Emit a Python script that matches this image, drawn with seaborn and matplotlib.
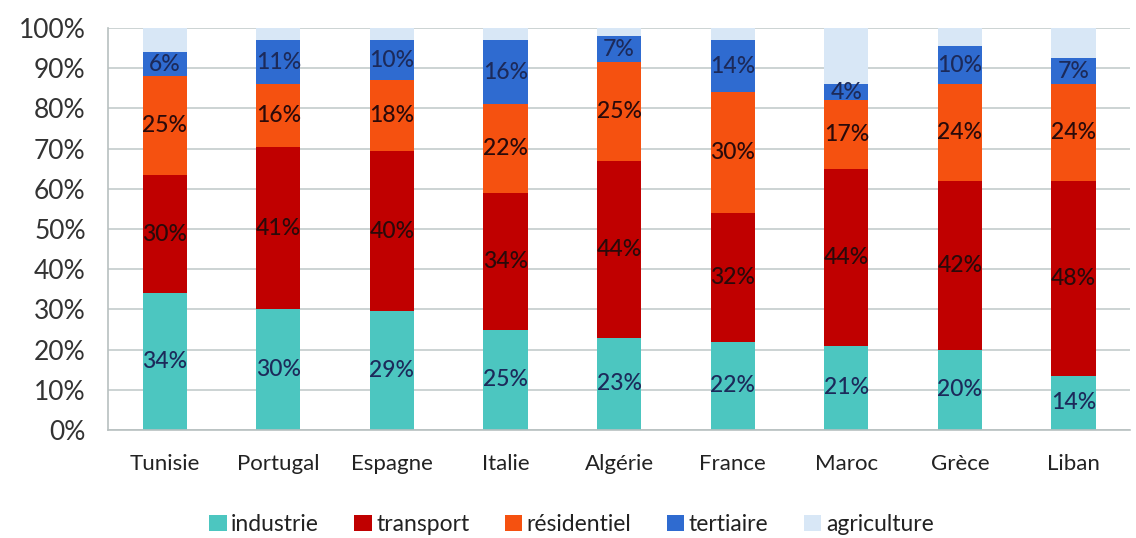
import numpy as np
import pandas as pd
import matplotlib
matplotlib.use("Agg")
import matplotlib.pyplot as plt
import seaborn as sns
from matplotlib.patches import Patch
from matplotlib.ticker import FixedLocator, PercentFormatter

countries = ["Tunisie", "Portugal", "Espagne", "Italie", "Algérie", "France", "Maroc", "Grèce", "Liban"]
industrie = [34, 30, 29.5, 25, 23, 22, 21, 20, 13.5]
transport = [29.5, 40.5, 40, 34, 44, 32, 44, 42, 48.5]
residentiel = [24.5, 15.5, 17.5, 22, 24.5, 30, 17, 24, 24]
tertiaire = [6, 11, 10, 16, 6.5, 13, 4, 9.5, 6.5]
agriculture = [6, 3, 3, 3, 2, 3, 14, 4.5, 7.5]
label_ind = ["34%", "30%", "29%", "25%", "23%", "22%", "21%", "20%", "14%"]
label_tra = ["30%", "41%", "40%", "34%", "44%", "32%", "44%", "42%", "48%"]
label_res = ["25%", "16%", "18%", "22%", "25%", "30%", "17%", "24%", "24%"]
label_ter = ["6%", "11%", "10%", "16%", "7%", "14%", "4%", "10%", "7%"]
series_names = ["industrie", "transport", "résidentiel", "tertiaire", "agriculture"]
colors = ["#4cc6c0", "#c00000", "#f55110", "#2f6bd0", "#d8e7f6"]

series = [industrie, transport, residentiel, tertiaire, agriculture]
labels = [label_ind, label_tra, label_res, label_ter, None]
cum = np.cumsum(np.array(series, dtype=float), axis=0)

sns.set_theme(style="white")
plt.rcParams['font.family'] = ['Lato', 'DejaVu Sans']

fig = plt.figure(figsize=(11.36, 5.38), dpi=100)
ax = fig.add_axes([0.095, 0.2007, 0.9, 0.7472])

bw = 0.39
for i in range(len(series) - 1, -1, -1):
    df = pd.DataFrame({"pays": countries, "v": cum[i]})
    sns.barplot(data=df, x="pays", y="v", color=colors[i], width=bw,
                saturation=1, ax=ax, zorder=2, edgecolor="none", linewidth=0)

for i, labs in enumerate(labels):
    if labs is None:
        continue
    bottoms = cum[i] - np.array(series[i])
    mids = bottoms + np.array(series[i]) / 2
    for j, lab in enumerate(labs):
        col = "#1c2a5a" if i in (0, 3) else "#2a0a0a"
        ax.text(j, mids[j], lab, ha="center", va="center", fontsize=16.5,
                color=col, zorder=3, fontweight="medium")

ax.set_ylim(0, 100)
ax.set_xlim(-0.5, len(countries) - 0.5)
ax.yaxis.set_major_locator(FixedLocator(np.arange(0, 101, 10)))
ax.yaxis.set_major_formatter(PercentFormatter(decimals=0))
ax.grid(axis="y", color="#c4cccc", linewidth=1.2, zorder=0)
ax.set_axisbelow(True)
ax.set_xlabel("")
ax.set_ylabel("")
for s in ["top", "right"]:
    ax.spines[s].set_visible(False)
for s in ["left", "bottom"]:
    ax.spines[s].set_color("#b8c0c0")
    ax.spines[s].set_linewidth(1.2)
ax.tick_params(axis="y", which="major", length=8, width=1.2, color="#c4cccc",
               labelsize=19, labelcolor="#333333", pad=8)
ax.tick_params(axis="x", which="major", length=0, labelsize=16,
               labelcolor="#222222", pad=17)
ax.xaxis.set_minor_locator(FixedLocator(np.arange(-0.5, len(countries), 1)))
ax.tick_params(axis="x", which="minor", length=7, width=1.2, color="#b8c0c0")

handles = [Patch(facecolor=c, edgecolor="none") for c in colors]
fig.legend(handles, series_names, loc="center", bbox_to_anchor=(0.503, 0.025),
           ncol=5, frameon=False, fontsize=16.5, handlelength=0.75,
           handleheight=0.75, handletextpad=0.2, columnspacing=1.55,
           labelcolor="#222222")

fig.savefig("out.png", dpi=100)
